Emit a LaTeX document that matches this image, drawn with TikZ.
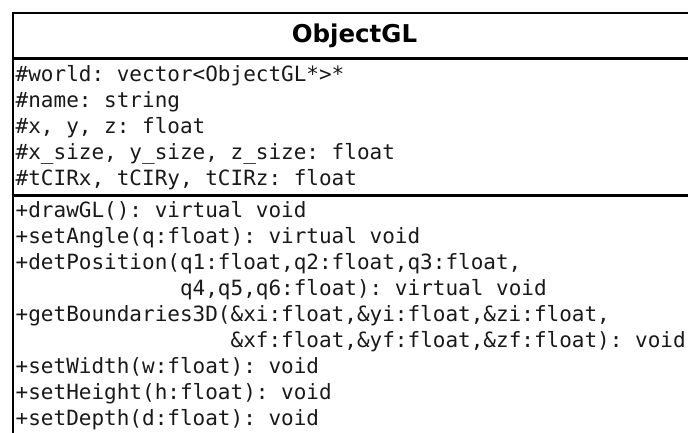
\documentclass[tikz,border=0pt]{standalone}
\usepackage{fontspec}
\setmainfont{DejaVu Sans}
\setmonofont{DejaVu Sans Mono}
\usetikzlibrary{positioning}

\begin{document}
\begin{tikzpicture}[
    x=1pt, y=1pt,
    frame/.style={draw=black, line width=2.2pt},
    classname/.style={font=\bfseries\fontsize{24.5}{29}\selectfont, inner sep=0pt},
    members/.style={font=\ttfamily\fontsize{21}{26}\selectfont, align=left, inner sep=0pt, anchor=north west, text=black!90}
]
\useasboundingbox (0,0) rectangle (688,432);
\clip (0,0) rectangle (688,432);

% Class box
\draw[frame] (13,419) rectangle (696,-20);
\draw[frame] (13,373.5) -- (696,373.5);
\draw[frame] (13,236.5) -- (696,236.5);

% Name
\node[classname] (cname) at (354.5,396) {ObjectGL};

% Attributes
\node[members] (attrs) at (15.5,367) {\#world: vector<ObjectGL*>*\\\#name: string\\\#x, y, z: float\\\#x\_size, y\_size, z\_size: float\\\#tCIRx, tCIRy, tCIRz: float};

% Operations
\node[members] (ops) at (15.5,230.5) {+drawGL(): virtual void\\+setAngle(q:float): virtual void\\+detPosition(q1:float,q2:float,q3:float,\\\phantom{+detPosition(}q4,q5,q6:float): virtual void\\+getBoundaries3D(\&xi:float,\&yi:float,\&zi:float,\\\phantom{+getBoundaries3D(}\&xf:float,\&yf:float,\&zf:float): void\\+setWidth(w:float): void\\+setHeight(h:float): void\\+setDepth(d:float): void};

\end{tikzpicture}
\end{document}
